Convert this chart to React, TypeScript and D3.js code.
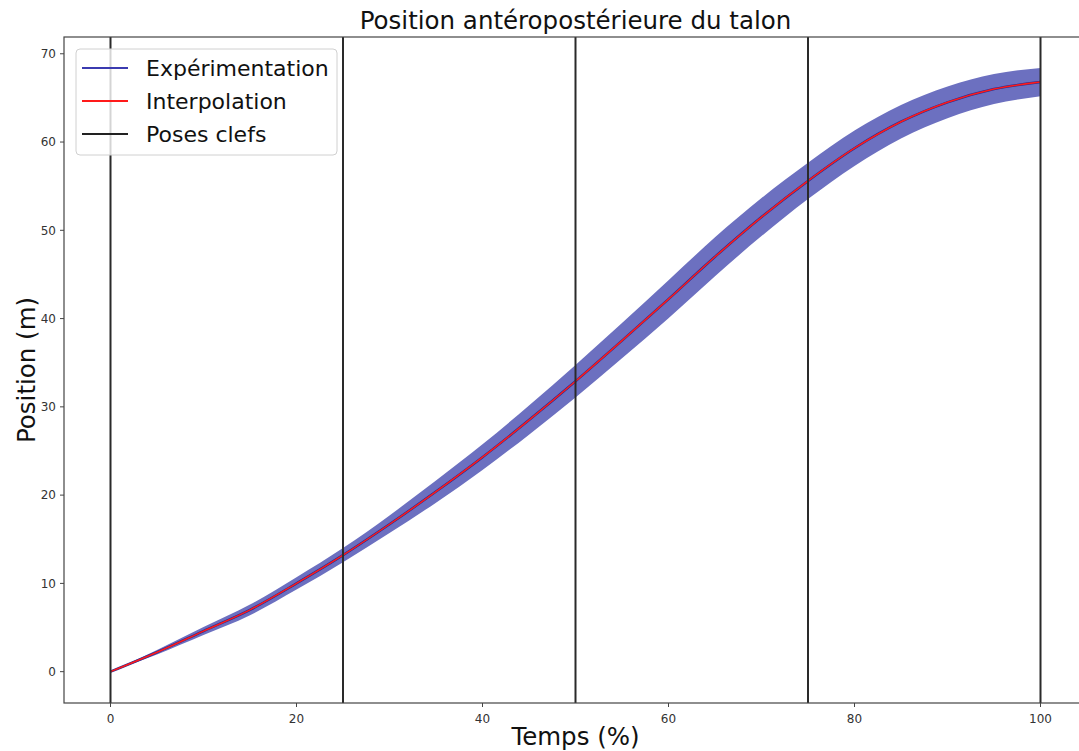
import React from "react";
import * as d3 from "d3";

const WIDTH = 1079;
const HEIGHT = 751;
const MARGIN = { top: 37, right: -8, bottom: 48, left: 64 };

// time (%) / mean position / spread of the experiment band
const temps = [0, 5, 10, 15, 20, 25, 30, 35, 40, 45, 50, 55, 60, 65, 70, 75, 80, 85, 90, 95, 100];
const moyenne = [0, 2.2, 4.6, 7.0, 10.0, 13.2, 16.7, 20.4, 24.3, 28.5, 32.9, 37.5, 42.2, 47.0, 51.5, 55.6, 59.3, 62.3, 64.5, 66.0, 66.8];
const ecart = [0, 0.25, 0.45, 0.6, 0.7, 0.8, 1.0, 1.25, 1.45, 1.65, 1.85, 2.0, 2.15, 2.2, 2.15, 2.05, 2.0, 1.9, 1.8, 1.7, 1.6];
const posesClefs = [0, 25, 50, 75, 100];
const xTicks = [0, 20, 40, 60, 80, 100];
const yTicks = [0, 10, 20, 30, 40, 50, 60, 70];
const legende = [
  { label: "Expérimentation", color: "#3b3bb0" },
  { label: "Interpolation", color: "#ff1a1a" },
  { label: "Poses clefs", color: "#222" },
];

const FONT = "DejaVu Sans, sans-serif";

export default function App() {
  const boundsWidth = WIDTH - MARGIN.left - MARGIN.right;
  const boundsHeight = HEIGHT - MARGIN.top - MARGIN.bottom;

  const xScale = d3.scaleLinear().domain([-5, 105]).range([0, boundsWidth]);
  const yScale = d3.scaleLinear().domain([-3.55, 71.9]).range([boundsHeight, 0]);

  const data = temps.map((t, i) => ({ t, m: moyenne[i], s: ecart[i] }));

  const area = d3
    .area<{ t: number; m: number; s: number }>()
    .x((d) => xScale(d.t))
    .y0((d) => yScale(d.m - d.s))
    .y1((d) => yScale(d.m + d.s))
    .curve(d3.curveMonotoneX);

  const line = d3
    .line<{ t: number; m: number; s: number }>()
    .x((d) => xScale(d.t))
    .y((d) => yScale(d.m))
    .curve(d3.curveMonotoneX);

  return (
    <svg
      width={WIDTH}
      height={HEIGHT}
      style={{ position: "absolute", left: 0, top: 0, background: "#fff" }}
      fontFamily={FONT}
    >
      <defs>
        <clipPath id="plot">
          <rect x={0} y={0} width={boundsWidth} height={boundsHeight} />
        </clipPath>
      </defs>

      <text x={MARGIN.left + xScale(50)} y={29} textAnchor="middle" fontSize={24.5} fill="#111">
        Position antéropostérieure du talon
      </text>

      <g transform={`translate(${MARGIN.left},${MARGIN.top})`}>
        <g clipPath="url(#plot)">
          <path d={area(data) ?? ""} fill="rgb(108,112,192)" />
          <path d={line(data) ?? ""} fill="none" stroke="#2a2a90" strokeWidth={2.5} />
          <path d={line(data) ?? ""} fill="none" stroke="#ff1a1a" strokeWidth={1.5} />
          {posesClefs.map((p) => (
            <line
              key={p}
              x1={xScale(p)}
              x2={xScale(p)}
              y1={0}
              y2={boundsHeight}
              stroke="#2a2a2a"
              strokeWidth={2}
            />
          ))}
        </g>

        {/* frame */}
        <rect x={0} y={0} width={boundsWidth} height={boundsHeight} fill="none" stroke="#444" strokeWidth={1.2} />

        {/* x axis */}
        {xTicks.map((t) => (
          <g key={t} transform={`translate(${xScale(t)},${boundsHeight})`}>
            <line y2={4} stroke="#444" />
            <text y={20} textAnchor="middle" fontSize={12} fill="#333">
              {t}
            </text>
          </g>
        ))}
        {/* y axis */}
        {yTicks.map((t) => (
          <g key={t} transform={`translate(0,${yScale(t)})`}>
            <line x2={-4} stroke="#444" />
            <text x={-8} dy="0.35em" textAnchor="end" fontSize={12} fill="#333">
              {t}
            </text>
          </g>
        ))}

        {/* legend */}
        <g transform="translate(12,12)">
          <rect
            width={261}
            height={106}
            rx={4}
            fill="#fff"
            fillOpacity={0.8}
            stroke="#d0d0d0"
          />
          {legende.map((l, i) => (
            <g key={l.label} transform={`translate(0,${19 + i * 33})`}>
              <line x1={6} x2={52} stroke={l.color} strokeWidth={2} />
              <text x={70} dy="0.35em" fontSize={22} fill="#111">
                {l.label}
              </text>
            </g>
          ))}
        </g>
      </g>

      <text x={MARGIN.left + xScale(50)} y={745} textAnchor="middle" fontSize={24.5} fill="#111">
        Temps (%)
      </text>
      <text
        transform={`translate(35,${MARGIN.top + boundsHeight / 2}) rotate(-90)`}
        textAnchor="middle"
        fontSize={24.5}
        fill="#111"
      >
        Position (m)
      </text>
    </svg>
  );
}
